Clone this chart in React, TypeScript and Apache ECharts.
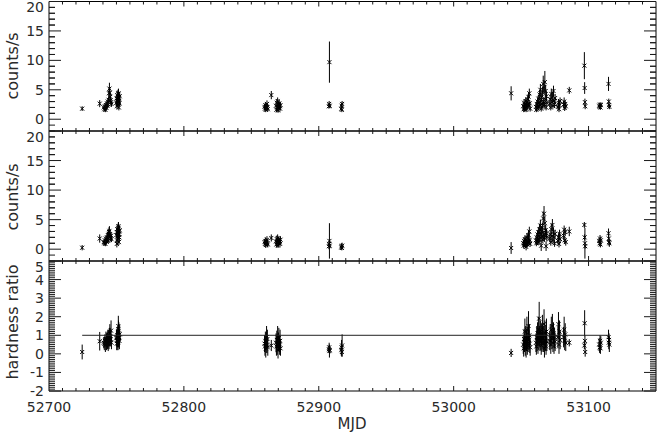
import React, { useEffect, useRef } from 'react';
import * as echarts from 'echarts';

// ---- data ----
const mjd = [
  52724.6, 52737.6,
  52740.6, 52741.0, 52741.4, 52741.8, 52742.2, 52742.6, 52743.0, 52743.3, 52743.6, 52743.9, 52744.2, 52744.5, 52744.8, 52745.1, 52745.4, 52745.7, 52746.0, 52746.3,
  52750.0, 52750.2, 52750.3, 52750.4, 52750.6, 52750.8, 52751.0, 52751.2, 52751.4, 52751.5, 52751.6, 52751.8, 52751.9, 52752.0, 52752.2, 52752.4,
  52859.8, 52860.1, 52860.4, 52860.7, 52861.0, 52861.3, 52861.6, 52861.9, 52862.2, 52864.8,
  52868.3, 52868.6, 52868.9, 52869.2, 52869.5, 52869.8, 52870.1, 52870.4, 52870.7, 52871.0, 52871.3, 52871.6,
  52907.5, 52907.7, 52907.9, 52908.1,
  52916.7, 52916.9, 52917.1, 52917.3,
  53042.6,
  53051.6, 53051.9, 53052.2, 53052.5, 53052.8, 53053.1, 53053.4, 53053.7, 53054.0, 53054.3, 53054.6, 53054.9, 53055.2, 53055.5, 53055.8, 53056.1, 53056.4, 53056.7,
  53061.0, 53061.3, 53061.6, 53061.9, 53062.2, 53062.5, 53062.8, 53063.1, 53063.4, 53063.7, 53064.0, 53064.3, 53064.6, 53064.9, 53065.2, 53065.5, 53065.8, 53066.1, 53066.4, 53066.7, 53067.0, 53067.3, 53067.6, 53067.9, 53068.2, 53068.5, 53068.8, 53069.1,
  53071.2, 53071.6, 53072.0, 53072.4, 53072.8, 53073.2, 53073.6, 53074.0, 53074.4, 53074.8, 53075.2,
  53077.3, 53077.7, 53078.1, 53078.5, 53078.9, 53081.5, 53081.9, 53082.3, 53082.7, 53083.1,
  53085.7,
  53096.9, 53097.1, 53097.3, 53097.5,
  53107.9, 53108.2, 53108.5, 53108.8, 53109.1,
  53114.8, 53115.0, 53115.2, 53115.4,
];

const rate1 = [
  1.8, 2.65,
  2.0, 1.7, 2.2, 1.6, 2.4, 1.9, 2.7, 2.3, 3.0, 2.5, 3.3, 4.4, 5.2, 4.5, 3.8, 3.2, 2.9, 2.6,
  2.8, 3.5, 3.1, 2.2, 4.1, 3.0, 3.8, 2.5, 4.3, 4.4, 3.3, 2.0, 2.9, 3.6, 2.7, 3.9,
  2.1, 1.8, 2.4, 1.6, 2.2, 1.9, 2.6, 2.0, 1.7, 4.1,
  2.3, 1.6, 2.8, 2.0, 3.1, 1.5, 2.5, 1.9, 2.7, 2.2, 1.8, 2.4,
  2.2, 2.6, 9.7, 2.3,
  1.8, 2.3, 1.6, 2.6,
  4.4,
  2.2, 1.7, 2.8, 1.9, 2.5, 2.0, 3.1, 1.6, 2.4, 2.9, 2.1, 3.4, 2.6, 3.8, 2.3, 4.4, 2.7, 1.8,
  2.1, 1.6, 2.6, 1.9, 3.0, 2.3, 3.5, 2.0, 2.8, 4.2, 2.4, 5.0, 3.2, 1.8, 3.7, 2.6, 4.6, 2.2, 6.0, 3.0, 5.4, 2.5, 6.3, 3.4, 4.8, 2.0, 3.9, 2.8,
  2.6, 3.4, 2.0, 4.3, 2.9, 3.8, 2.3, 4.8, 3.1, 2.5, 3.6,
  2.1, 2.8, 1.7, 2.4, 3.1, 2.5, 3.0, 1.9, 2.6, 2.2,
  4.9,
  9.1, 5.3, 2.9, 2.2,
  2.3, 2.1, 2.5, 2.0, 2.4,
  6.0, 3.0, 2.4, 2.1,
];

const err1 = [
  0.4, 0.6,
  0.4, 0.4, 0.5, 0.4, 0.5, 0.4, 0.5, 0.5, 0.6, 0.5, 0.6, 0.9, 1.0, 0.8, 0.7, 0.6, 0.6, 0.5,
  0.6, 0.6, 0.6, 0.5, 0.8, 0.6, 0.7, 0.5, 0.8, 0.8, 0.6, 0.5, 0.6, 0.7, 0.5, 0.7,
  0.5, 0.5, 0.5, 0.4, 0.5, 0.5, 0.6, 0.5, 0.4, 0.7,
  0.5, 0.4, 0.6, 0.5, 0.6, 0.4, 0.5, 0.5, 0.6, 0.5, 0.5, 0.5,
  0.4, 0.5, 3.5, 0.4,
  0.4, 0.5, 0.4, 0.5,
  1.2,
  0.5, 0.5, 0.6, 0.5, 0.5, 0.5, 0.6, 0.4, 0.5, 0.6, 0.5, 0.6, 0.5, 0.7, 0.5, 0.8, 0.6, 0.5,
  0.5, 0.4, 0.6, 0.5, 0.6, 0.5, 0.7, 0.5, 0.6, 0.8, 0.5, 1.0, 0.6, 0.5, 0.7, 0.6, 0.9, 0.5, 1.4, 0.6, 1.2, 0.5, 1.9, 0.7, 1.0, 0.5, 0.8, 0.6,
  0.6, 0.7, 0.5, 0.9, 0.6, 0.8, 0.5, 0.9, 0.6, 0.6, 0.7,
  0.5, 0.6, 0.5, 0.6, 0.6, 0.6, 0.7, 0.5, 0.6, 0.5,
  0.6,
  2.3, 1.0, 0.6, 0.5,
  0.4, 0.4, 0.4, 0.4, 0.4,
  1.2, 0.5, 0.5, 0.4,
];

const rate2 = [
  0.25, 1.8,
  1.2, 1.0, 1.5, 0.9, 1.8, 1.3, 2.0, 1.6, 2.4, 1.4, 2.6, 2.9, 3.1, 2.5, 2.2, 1.9, 2.3, 1.7,
  2.4, 2.9, 0.9, 1.5, 3.4, 2.2, 2.8, 1.8, 3.6, 3.9, 2.6, 1.2, 2.5, 3.0, 2.0, 3.2,
  1.2, 0.9, 1.4, 0.7, 1.1, 1.3, 1.6, 1.0, 0.8, 1.9,
  1.3, 0.8, 1.7, 1.0, 1.9, 0.6, 1.5, 1.1, 1.4, 1.2, 0.9, 1.6,
  0.5, 0.9, 1.4, 0.6,
  0.3, 0.5, 0.2, 0.6,
  0.2,
  1.0, 0.6, 1.4, 0.9, 1.7, 0.7, 1.5, 0.4, 1.2, 2.0, 0.8, 1.8, 1.1, 2.4, 1.3, 3.0, 1.6, 0.9,
  1.5, 1.0, 2.0, 1.3, 2.5, 1.7, 2.9, 1.2, 2.2, 3.4, 1.8, 4.0, 2.6, 0.6, 3.0, 2.1, 3.6, 1.6, 5.2, 2.4, 6.0, 1.9, 4.4, 2.8, 3.2, 0.5, 2.7, 2.0,
  1.8, 2.5, 1.2, 3.4, 2.2, 4.1, 1.5, 2.9, 2.0, 1.0, 2.6,
  1.4, 2.0, 0.9, 2.6, 1.7, 2.3, 3.3, 1.5, 2.9, 1.2,
  3.0,
  4.1, 2.0, 1.0, 0.5,
  1.4, 1.0, 1.8, 0.8, 1.5,
  2.7, 1.8, 1.2, 1.0,
];

const err2 = [
  0.45, 0.7,
  0.4, 0.4, 0.5, 0.4, 0.5, 0.5, 0.6, 0.5, 0.6, 0.5, 0.7, 0.8, 0.8, 0.7, 0.6, 0.6, 0.6, 0.5,
  0.6, 0.7, 0.6, 0.6, 0.8, 0.6, 0.7, 0.6, 0.9, 0.7, 0.7, 0.5, 0.6, 0.8, 0.6, 0.8,
  0.5, 0.5, 0.6, 0.5, 0.5, 0.5, 0.6, 0.5, 0.5, 0.6,
  0.5, 0.5, 0.6, 0.5, 0.6, 0.4, 0.6, 0.5, 0.6, 0.5, 0.5, 0.6,
  0.5, 0.5, 3.0, 0.4,
  0.4, 0.5, 0.4, 0.5,
  1.0,
  0.5, 0.5, 0.6, 0.5, 0.6, 0.5, 0.6, 0.6, 0.6, 0.7, 0.5, 0.7, 0.6, 0.8, 0.6, 0.8, 0.6, 0.5,
  0.6, 0.5, 0.7, 0.6, 0.7, 0.6, 0.8, 0.5, 0.7, 0.9, 0.6, 1.0, 0.7, 0.9, 0.8, 0.7, 0.9, 0.6, 1.2, 0.7, 1.3, 0.6, 1.1, 0.8, 0.9, 0.8, 0.8, 0.7,
  0.6, 0.7, 0.6, 0.9, 0.7, 1.0, 0.6, 0.8, 0.7, 0.6, 0.7,
  0.6, 0.7, 0.6, 0.7, 0.7, 0.7, 0.7, 0.6, 0.7, 0.6,
  0.8,
  0.5, 0.5, 2.6, 0.4,
  0.5, 0.5, 0.6, 0.5, 0.6,
  0.8, 0.6, 0.6, 0.6,
];

const hr = [
  0.1, 0.68,
  0.6, 0.55, 0.7, 0.5, 0.8, 0.65, 0.75, 0.7, 0.8, 0.55, 0.85, 0.65, 0.9, 1.1, 0.95, 0.8, 1.25, 0.6,
  0.85, 0.9, 0.55, 0.7, 1.0, 0.75, 0.95, 0.6, 1.5, 1.2, 0.8, 1.1, 0.85, 0.9, 0.7, 1.05,
  0.55, 0.4, 0.7, 0.3, 0.6, 0.9, 0.5, 0.8, 0.35, 0.45,
  0.6, 0.4, 0.75, 0.5, 0.9, 0.2, 0.65, 0.85, 0.55, 0.45, 0.7, 0.3,
  0.25, 0.35, 0.15, 0.2,
  0.2, 0.35, 0.1, 0.45,
  0.05,
  0.5, 0.3, 0.8, 0.6, 1.2, 0.4, 0.9, 0.25, 0.7, 1.3, 0.45, 0.85, 0.6, 1.5, 0.75, 1.0, 0.55, 0.35,
  0.6, 0.4, 0.9, 0.7, 1.1, 0.5, 1.3, 0.8, 1.9, 0.95, 0.65, 1.2, 0.75, 0.45, 1.05, 0.6, 1.4, 0.85, 1.0, 0.55, 1.6, 0.3, 1.15, 0.9, 0.7, 0.4, 1.2, 0.65,
  0.7, 1.0, 0.5, 1.3, 0.8, 1.5, 0.6, 1.1, 0.4, 0.85, 0.65,
  0.9, 1.6, 0.5, 1.2, 0.75, 0.9, 1.3, 0.7, 1.05, 0.6,
  0.6,
  0.45, 1.65, 0.7, 0.1,
  0.5, 0.35, 0.7, 0.3, 0.6,
  0.9, 0.6, 0.75, 0.5,
];

const hrErr = [
  0.4, 0.5,
  0.3, 0.35, 0.35, 0.4, 0.4, 0.45, 0.4, 0.45, 0.5, 0.4, 0.45, 0.4, 0.5, 0.5, 0.45, 0.4, 0.55, 0.35,
  0.45, 0.4, 0.35, 0.5, 0.45, 0.4, 0.5, 0.4, 0.55, 0.6, 0.45, 0.6, 0.5, 0.4, 0.45, 0.5,
  0.45, 0.5, 0.5, 0.5, 0.55, 0.6, 0.45, 0.5, 0.45, 0.3,
  0.5, 0.5, 0.5, 0.55, 0.6, 0.45, 0.5, 0.55, 0.45, 0.5, 0.6, 0.4,
  0.2, 0.25, 0.35, 0.2,
  0.3, 0.4, 0.25, 0.6,
  0.22,
  0.5, 0.45, 0.55, 0.5, 0.7, 0.5, 0.6, 0.45, 0.55, 0.7, 0.5, 0.6, 0.5, 0.8, 0.55, 0.6, 0.5, 0.45,
  0.5, 0.45, 0.6, 0.55, 0.6, 0.5, 0.7, 0.6, 0.9, 0.55, 0.5, 0.6, 0.55, 0.5, 0.6, 0.5, 0.7, 0.6, 0.5, 0.45, 0.8, 0.5, 0.65, 0.6, 0.55, 0.45, 0.7, 0.5,
  0.5, 0.6, 0.5, 0.7, 0.55, 0.65, 0.5, 0.6, 0.4, 0.55, 0.5,
  0.6, 0.65, 0.5, 0.6, 0.5, 0.55, 0.7, 0.5, 0.6, 0.45,
  0.2,
  0.2, 0.7, 0.3, 0.25,
  0.35, 0.3, 0.3, 0.3, 0.35,
  0.4, 0.35, 0.35, 0.4,
];

const xTickValues = [52700, 52800, 52900, 53000, 53100];
const rateTickValues = [0, 5, 10, 15, 20];
const hrTickValues = [-2, -1, 0, 1, 2, 3, 4, 5];
const hrRefMjd = [52724.6, 53115.4];
const hrRefValue = [1, 1];

const X_MIN = 52700;
const X_MAX = 53150;
const FONT = '"DejaVu Sans", "Liberation Sans", sans-serif';
const TEXT_COLOR = '#2a2a2a';
const INK = '#000';
const TICK_INK = '#1a1a1a';

// error bar + "x" marker
const renderErr = (_params: any, api: any) => {
  const x = api.value(0);
  const y = api.value(1);
  const e = api.value(2);
  const c = api.coord([x, y]);
  const hi = api.coord([x, y + e]);
  const lo = api.coord([x, y - e]);
  const d = 2;
  const st = { stroke: INK, lineWidth: 1 };
  return {
    type: 'group',
    children: [
      { type: 'line', shape: { x1: c[0], y1: hi[1], x2: c[0], y2: lo[1] }, style: st },
      { type: 'line', shape: { x1: c[0] - d, y1: c[1] - d, x2: c[0] + d, y2: c[1] + d }, style: st },
      { type: 'line', shape: { x1: c[0] - d, y1: c[1] + d, x2: c[0] + d, y2: c[1] - d }, style: st },
    ],
  };
};

// y ticks, data item = [xLeft, value, xRight, yMin, yMax]
const makeYTicks = (minorStep: number, minorCount: number, both: boolean) => (_params: any, api: any) => {
  const xl = api.value(0);
  const v = api.value(1);
  const xr = api.value(2);
  const ymin = api.value(3);
  const ymax = api.value(4);
  const left = api.coord([xl, v])[0];
  const right = api.coord([xr, v])[0];
  const children: any[] = [];
  const add = (val: number, len: number) => {
    if (val < ymin - 1e-6 || val > ymax + 1e-6) return;
    const y = api.coord([xl, val])[1];
    children.push({ type: 'line', shape: { x1: left, y1: y, x2: left + len, y2: y }, style: { stroke: TICK_INK, lineWidth: 1 } });
    children.push({ type: 'line', shape: { x1: right - len, y1: y, x2: right, y2: y }, style: { stroke: TICK_INK, lineWidth: 1 } });
  };
  add(v, 12);
  for (let k = 1; k < minorCount; k++) {
    add(v + k * minorStep, 6);
    if (both) add(v - k * minorStep, 6);
  }
  return { type: 'group', children };
};

// x ticks, data item = [value, yBottom, yTop]
const renderXTicks = (_params: any, api: any) => {
  const v = api.value(0);
  const yb = api.value(1);
  const yt = api.value(2);
  const bottom = api.coord([v, yb])[1];
  const top = api.coord([v, yt])[1];
  const children: any[] = [];
  const add = (val: number, len: number) => {
    if (val <= X_MIN || val >= X_MAX) return;
    const x = api.coord([val, yb])[0];
    children.push({ type: 'line', shape: { x1: x, y1: bottom, x2: x, y2: bottom - len }, style: { stroke: TICK_INK, lineWidth: 1 } });
    children.push({ type: 'line', shape: { x1: x, y1: top, x2: x, y2: top + len }, style: { stroke: TICK_INK, lineWidth: 1 } });
  };
  add(v, 5);
  for (let k = 1; k < 10; k++) add(v + k * 10, 3);
  return { type: 'group', children };
};

function xAxisFor(g: number, labels: boolean) {
  return {
    type: 'value',
    gridIndex: g,
    position: 'bottom',
    min: X_MIN,
    max: X_MAX,
    splitLine: { show: false },
    axisLine: { show: false, onZero: false },
    axisTick: { show: false },
    axisLabel: labels
      ? { show: true, customValues: xTickValues.slice(), margin: 9, fontFamily: FONT, fontSize: 14, color: TEXT_COLOR, formatter: (v: number) => String(v) }
      : { show: false },
  };
}

function yAxesFor(g: number, min: number, max: number, majors: number[]) {
  const lowLabels = majors.filter((v) => v !== max);
  const common = {
    type: 'value',
    gridIndex: g,
    position: 'left',
    min,
    max,
    splitLine: { show: false },
    axisLine: { show: false, onZero: false },
    axisTick: { show: false },
  };
  return [
    {
      ...common,
      axisLabel: { show: true, customValues: lowLabels, margin: 5, fontFamily: FONT, fontSize: 14, lineHeight: 11, color: TEXT_COLOR },
    },
    {
      ...common,
      axisLabel: { show: true, customValues: [max], margin: 5, verticalAlign: 'top', fontFamily: FONT, fontSize: 14, lineHeight: 11, color: TEXT_COLOR },
    },
  ];
}

export default function App() {
  const ref = useRef<HTMLDivElement>(null);

  useEffect(() => {
    if (!ref.current) return;
    const chart = echarts.init(ref.current, undefined, { renderer: 'svg' });

    const d1 = mjd.map((m, i) => [m, rate1[i], err1[i]]);
    const d2 = mjd.map((m, i) => [m, rate2[i], err2[i]]);
    const d3 = mjd.map((m, i) => [m, hr[i], hrErr[i]]);

    const rateTickData = rateTickValues.map((v) => [X_MIN, v, X_MAX, -2, 20]);
    const hrTickData = hrTickValues.map((v) => [X_MIN, v, X_MAX, -2, 5]);
    const xTickDataRate = xTickValues.map((v) => [v, -2, 20]);
    const xTickDataHr = xTickValues.map((v) => [v, -2, 5]);

    const tickSeries = (xi: number, yi: number, data: any[], renderItem: any) => ({
      type: 'custom',
      xAxisIndex: xi,
      yAxisIndex: yi,
      data,
      renderItem,
      encode: { x: 0, y: 1 },
      clip: false,
      silent: true,
      z: 5,
    });

    const option: any = {
      animation: false,
      grid: [
        { left: 49, right: 1, top: 1, height: 130, show: true, borderColor: INK, borderWidth: 1 },
        { left: 49, right: 1, top: 131, height: 130, show: true, borderColor: INK, borderWidth: 1 },
        { left: 49, right: 1, top: 261, height: 130, show: true, borderColor: INK, borderWidth: 1 },
      ],
      xAxis: [xAxisFor(0, false), xAxisFor(1, false), xAxisFor(2, true)],
      yAxis: [
        ...yAxesFor(0, -2, 20, rateTickValues),
        ...yAxesFor(1, -2, 20, rateTickValues),
        ...yAxesFor(2, -2, 5, hrTickValues),
      ],
      series: [
        tickSeries(0, 0, rateTickData, makeYTicks(1, 5, true)),
        tickSeries(1, 2, rateTickData, makeYTicks(1, 5, true)),
        tickSeries(2, 4, hrTickData, makeYTicks(0.1, 10, false)),
        tickSeries(0, 0, xTickDataRate, renderXTicks),
        tickSeries(1, 2, xTickDataRate, renderXTicks),
        tickSeries(2, 4, xTickDataHr, renderXTicks),
        { type: 'custom', xAxisIndex: 0, yAxisIndex: 0, data: d1, renderItem: renderErr, encode: { x: 0, y: 1 }, clip: true },
        { type: 'custom', xAxisIndex: 1, yAxisIndex: 2, data: d2, renderItem: renderErr, encode: { x: 0, y: 1 }, clip: true },
        { type: 'custom', xAxisIndex: 2, yAxisIndex: 4, data: d3, renderItem: renderErr, encode: { x: 0, y: 1 }, clip: true },
        {
          type: 'line',
          xAxisIndex: 2,
          yAxisIndex: 4,
          data: hrRefMjd.map((m, i) => [m, hrRefValue[i]]),
          symbol: 'none',
          lineStyle: { color: '#222', width: 1 },
          silent: true,
        },
      ],
      graphic: [
        {
          type: 'text',
          x: 12,
          y: 66,
          rotation: Math.PI / 2,
          style: { text: 'counts/s', fontFamily: FONT, fontSize: 16, fill: TEXT_COLOR, align: 'center', verticalAlign: 'middle' },
        },
        {
          type: 'text',
          x: 12,
          y: 197,
          rotation: Math.PI / 2,
          style: { text: 'counts/s', fontFamily: FONT, fontSize: 16, fill: TEXT_COLOR, align: 'center', verticalAlign: 'middle' },
        },
        {
          type: 'text',
          x: 12,
          y: 322,
          rotation: Math.PI / 2,
          style: { text: 'hardness ratio', fontFamily: FONT, fontSize: 16, fill: TEXT_COLOR, align: 'center', verticalAlign: 'middle' },
        },
        {
          type: 'text',
          x: 352,
          y: 424,
          style: { text: 'MJD', fontFamily: FONT, fontSize: 15, fill: TEXT_COLOR, align: 'center', verticalAlign: 'middle' },
        },
      ],
    };

    chart.setOption(option);
    return () => chart.dispose();
  }, []);

  return (
    <div
      ref={ref}
      style={{ position: 'fixed', left: 0, top: 0, width: 657, height: 432, background: '#fff' }}
    />
  );
}
